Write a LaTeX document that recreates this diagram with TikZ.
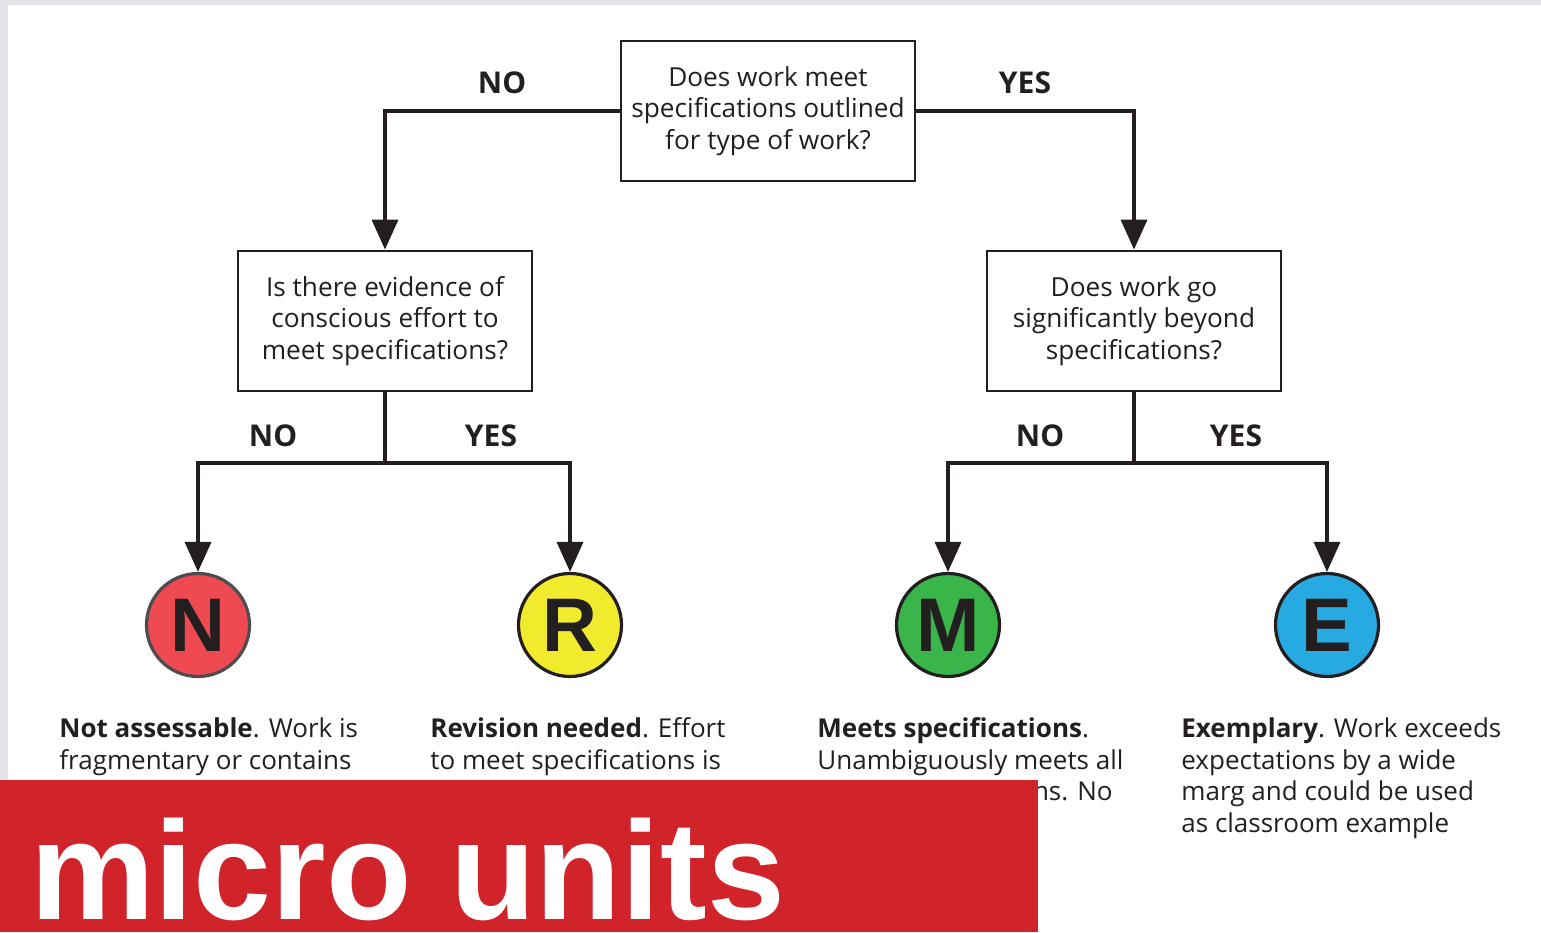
\documentclass[tikz,border=0pt]{standalone}
\usepackage{fontspec}
\setmainfont{Open Sans}
\newfontfamily\helv{Liberation Sans}
\usetikzlibrary{arrows.meta}
\definecolor{ink}{HTML}{231F20}
\definecolor{bggray}{HTML}{E2E4E7}
\definecolor{cred}{HTML}{EF4A51}
\definecolor{credline}{HTML}{4D4D4F}
\definecolor{cyellow}{HTML}{F2EA2D}
\definecolor{cgreen}{HTML}{3AB54A}
\definecolor{cblue}{HTML}{27A9E1}
\definecolor{bandred}{HTML}{D1232A}
\begin{document}
\begin{tikzpicture}[x=0.5pt,y=-0.5pt,
  qbox/.style={draw=ink, line width=1.4pt, minimum width=147pt, minimum height=70pt,
    align=center, font=\fontsize{13.1}{15.75}\selectfont, text=ink, inner sep=0pt},
  lbl/.style={font=\bfseries\fontsize{15}{18}\selectfont, text=ink, inner sep=0pt},
  grade/.style={circle, draw=ink, line width=1.6pt, minimum size=51.5pt, inner sep=0pt,
    font=\helv\bfseries\fontsize{38}{38}\selectfont, text=ink},
  conn/.style={draw=ink, line width=1.75pt},
  arr/.style={conn, -{Triangle[width=13pt,length=15pt]}},
  desc/.style={anchor=base west, align=left, font=\fontsize{13}{15.75}\selectfont, text=ink, inner sep=0pt}
]
\useasboundingbox (0,0) rectangle (1541,932);
\fill[bggray] (0,0) rectangle (1541,932);
\fill[white] (8,5) rectangle (1541,932);

% question boxes
\node[qbox] (top) at (768,111) {Does work meet\\specifications outlined\\for type of work?};
\node[qbox] (lq) at (385,321) {Is there evidence of\\conscious effort to\\meet specifications?};
\node[qbox] (rq) at (1134,321) {Does work go\\significantly beyond\\specifications?};

% grade circles
\node[grade, fill=cred, draw=credline] (N) at (198,625) {N};
\node[grade, fill=cyellow] (R) at (570,625) {R};
\node[grade, fill=cgreen] (M) at (948,625) {M};
\node[grade, fill=cblue] (E) at (1327,625) {E};

% connectors
\draw[arr] (top.west) -| (lq.north);
\draw[arr] (top.east) -| (rq.north);
\coordinate (lj) at (385,463);
\coordinate (rj) at (1134,463);
\draw[conn] (lq.south) -- (lj);
\draw[arr] (lj) -| (N.north);
\draw[arr] (lj) -| (R.north);
\draw[conn] (rq.south) -- (rj);
\draw[arr] (rj) -| (M.north);
\draw[arr] (rj) -| (E.north);

% labels
\node[lbl] (l1) at (502,83) {NO};
\node[lbl] (l2) at (1025,83) {YES};
\node[lbl] (l3) at (273,436) {NO};
\node[lbl] (l4) at (491,436) {YES};
\node[lbl] (l5) at (1040,436) {NO};
\node[lbl] (l6) at (1236,436) {YES};

% descriptions (anchored at the baseline of their last line)
\node[desc] (dN) at (59,769) {\textbf{Not assessable}. Work is\\fragmentary or contains};
\node[desc] (dR) at (430,769) {\textbf{Revision needed}. Effort\\to meet specifications is};
\node[desc] (dM) at (817,769) {\textbf{Meets specifications}.\\Unambiguously meets all};
\node[desc, anchor=base east] (dM3) at (1113,800) {ns. No};
\node[desc] (dE) at (1181,832) {\textbf{Exemplary}. Work exceeds\\expectations by a wide\\marg and could be used\\as classroom example};

% band
\fill[bandred] (0,780) rectangle (1038,932);
\node[anchor=base west, text=white, inner sep=0pt,
  font=\helv\bfseries\fontsize{70}{70}\selectfont] (mu) at (30,919) {micro units};
\end{tikzpicture}
\end{document}
